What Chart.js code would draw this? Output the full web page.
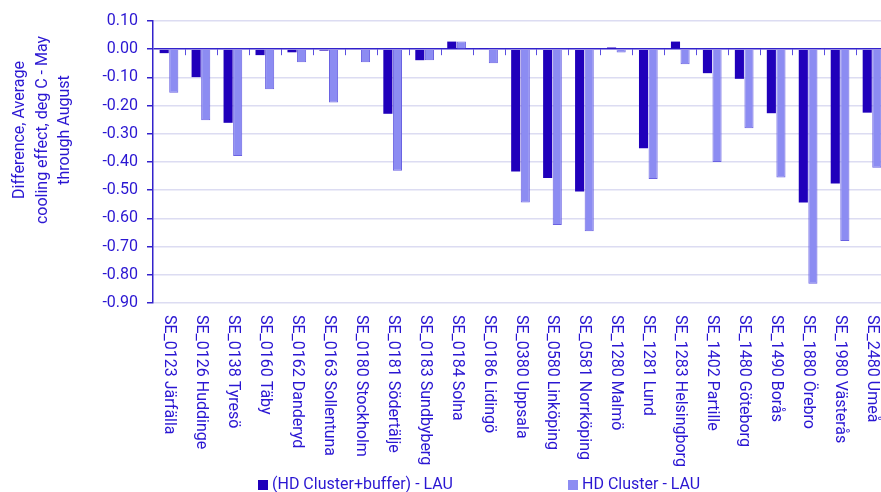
<!DOCTYPE html>
<html>
<head>
<meta charset="utf-8">
<script src="https://cdn.jsdelivr.net/npm/chart.js@4.4.1/dist/chart.umd.min.js"></script>
<style>
    html, body { margin: 0; padding: 0; background: #fff; overflow: hidden; }
    canvas { display: block; }
</style>
</head>
<body>
<canvas id="coolingChart" width="888" height="492"></canvas>
<script>
const municipalities = [
    'SE_0123 Järfälla', 'SE_0126 Huddinge', 'SE_0138 Tyresö', 'SE_0160 Täby',
    'SE_0162 Danderyd', 'SE_0163 Sollentuna', 'SE_0180 Stockholm', 'SE_0181 Södertälje',
    'SE_0183 Sundbyberg', 'SE_0184 Solna', 'SE_0186 Lidingö', 'SE_0380 Uppsala',
    'SE_0580 Linköping', 'SE_0581 Norrköping', 'SE_1280 Malmö', 'SE_1281 Lund',
    'SE_1283 Helsingborg', 'SE_1402 Partille', 'SE_1480 Göteborg', 'SE_1490 Borås',
    'SE_1880 Örebro', 'SE_1980 Västerås', 'SE_2480 Umeå'
];
const clusterBuffer = [
    -0.014, -0.099, -0.261, -0.021, -0.011, -0.005, 0.003, -0.229,
    -0.039, 0.027, 0.002, -0.434, -0.457, -0.505, 0.006, -0.351,
    0.027, -0.085, -0.105, -0.227, -0.544, -0.476, -0.225
];
const clusterOnly = [
    -0.154, -0.252, -0.379, -0.142, -0.046, -0.189, -0.046, -0.431,
    -0.039, 0.027, -0.050, -0.544, -0.623, -0.646, -0.012, -0.460,
    -0.053, -0.400, -0.280, -0.455, -0.832, -0.680, -0.420
];
const seriesNames = ['(HD Cluster+buffer) - LAU', 'HD Cluster - LAU'];
const axisTitle = ['Difference, Average', 'cooling effect, deg C - May', 'through August'];

const textColor = '#2a16d2';
const axisColor = '#3322cc';
const gridColor = '#dcdcf2';
const font = '16px Roboto';

// draws the rotated category labels, zero-line ticks, axis title and legend
const decorations = {
    id: 'decorations',
    afterDraw(chart) {
        const ctx = chart.ctx;
        const x = chart.scales.x;
        const y = chart.scales.y;
        const zero = y.getPixelForValue(0);
        const half = (x.getPixelForTick(1) - x.getPixelForTick(0)) / 2;

        ctx.save();
        ctx.strokeStyle = '#5a4ee0';
        ctx.lineWidth = 1;
        for (let i = 1; i < municipalities.length; i++) {
            const bx = Math.round(x.getPixelForTick(i) - half) + 0.5;
            ctx.beginPath();
            ctx.moveTo(bx, zero);
            ctx.lineTo(bx, zero + 6);
            ctx.stroke();
        }

        ctx.fillStyle = textColor;
        ctx.font = font;
        ctx.textAlign = 'left';
        ctx.textBaseline = 'middle';
        municipalities.forEach((name, i) => {
            ctx.save();
            ctx.translate(x.getPixelForTick(i), chart.chartArea.bottom + 12);
            ctx.rotate(Math.PI / 2);
            ctx.fillText(name, 0, 0);
            ctx.restore();
        });

        ctx.textAlign = 'center';
        axisTitle.forEach((line, i) => {
            ctx.save();
            ctx.translate(20 + i * 22.5, 130);
            ctx.rotate(-Math.PI / 2);
            ctx.fillText(line, 0, 0);
            ctx.restore();
        });

        ctx.textAlign = 'left';
        const legendX = [258, 568];
        chart.data.datasets.forEach((ds, i) => {
            ctx.fillStyle = ds.backgroundColor;
            ctx.fillRect(legendX[i], 480, 10, 10);
            ctx.fillStyle = textColor;
            ctx.fillText(ds.label, legendX[i] + 14, 485);
        });
        ctx.restore();
    }
};

new Chart(document.getElementById('coolingChart'), {
    type: 'bar',
    data: {
        labels: municipalities,
        datasets: [
            {
                label: seriesNames[0],
                data: clusterBuffer,
                backgroundColor: '#2000bb',
                borderColor: '#2000bb',
                borderWidth: 0,
                categoryPercentage: 0.6,
                barPercentage: 0.95
            },
            {
                label: seriesNames[1],
                data: clusterOnly,
                backgroundColor: '#8c8cf2',
                borderColor: '#6a62e2',
                borderWidth: 1,
                categoryPercentage: 0.6,
                barPercentage: 0.95
            }
        ]
    },
    options: {
        responsive: false,
        animation: false,
        layout: { padding: { top: 21, left: 0, right: 0, bottom: 0 } },
        plugins: {
            legend: { display: false },
            tooltip: { enabled: false }
        },
        scales: {
            x: {
                offset: true,
                grid: { display: false },
                border: { display: false },
                ticks: { display: false },
                afterFit(scale) { scale.height = 189; }
            },
            y: {
                min: -0.9,
                max: 0.1,
                ticks: {
                    stepSize: 0.1,
                    color: textColor,
                    font: { family: 'Roboto', size: 16 },
                    padding: 9,
                    callback: v => v.toFixed(2)
                },
                grid: {
                    color: c => Math.abs(c.tick.value) < 1e-9 ? axisColor : gridColor,
                    lineWidth: c => Math.abs(c.tick.value) < 1e-9 ? 1.5 : 1.5,
                    tickColor: axisColor,
                    tickLength: 6
                },
                border: { display: true, color: axisColor, width: 1.5 },
                afterFit(scale) { scale.width = 153; }
            }
        }
    },
    plugins: [decorations]
});
</script>
</body>
</html>
